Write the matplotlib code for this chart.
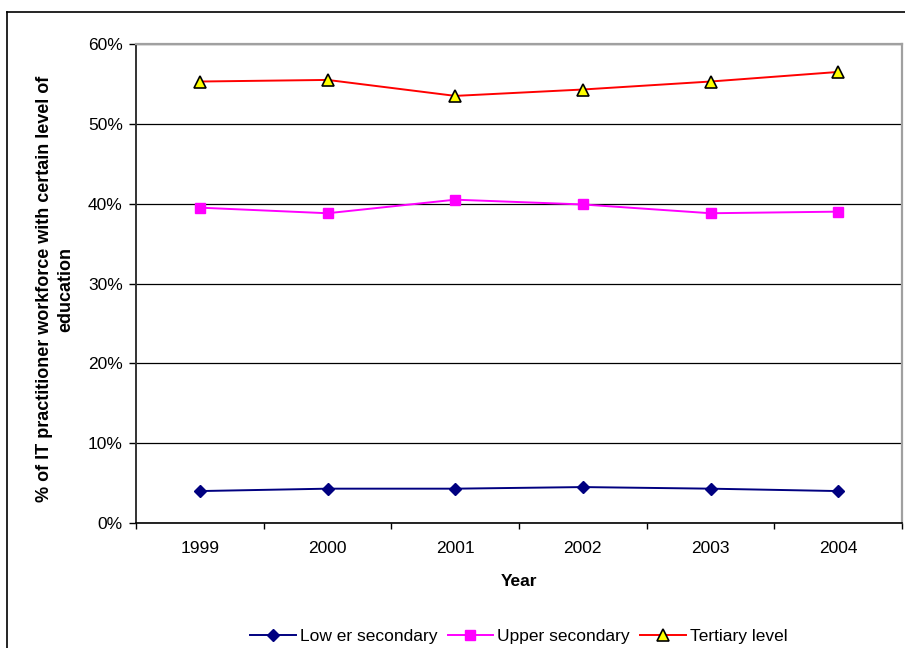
import matplotlib.pyplot as plt
from matplotlib.lines import Line2D
from matplotlib.ticker import FuncFormatter

plt.rcParams['font.family'] = ['Liberation Sans', 'DejaVu Sans']

# Share of IT practitioner workforce by education level
years = ['1999', '2000', '2001', '2002', '2003', '2004']
lower_secondary = [0.040, 0.043, 0.043, 0.045, 0.043, 0.040]
upper_secondary = [0.395, 0.388, 0.405, 0.399, 0.388, 0.390]
tertiary_level = [0.553, 0.555, 0.535, 0.543, 0.553, 0.565]

W, H = 905, 648
fig = plt.figure(figsize=(W / 100, H / 100), dpi=100)

# outer chart frame (runs off the page on the right and bottom)
fig.add_artist(Line2D([7 / W, 1.0], [1 - 12 / H, 1 - 12 / H], color='black', lw=1.2))
fig.add_artist(Line2D([7 / W, 7 / W], [0.0, 1 - 12 / H], color='black', lw=1.2))

ax = fig.add_axes([136 / W, 1 - 523 / H, (902 - 136) / W, (523 - 44) / H])

x = range(len(years))
ax.plot(x, lower_secondary, color='#000080', lw=1.4, marker='D', markersize=6.3,
        markerfacecolor='#000080', markeredgecolor='#000080', label='Low er secondary', zorder=3)
ax.plot(x, upper_secondary, color='#FF00FF', lw=1.4, marker='s', markersize=6.8,
        markerfacecolor='#FF00FF', markeredgecolor='#FF00FF', label='Upper secondary', zorder=3)
ax.plot(x, tertiary_level, color='#FF0000', lw=1.4, marker='^', markersize=8,
        markerfacecolor='#FFFF00', markeredgecolor='black', markeredgewidth=1.2,
        label='Tertiary level', zorder=3)

ax.set_xlim(-0.5, len(years) - 0.5)
ax.set_ylim(0, 0.6)
ax.set_yticks([0, 0.1, 0.2, 0.3, 0.4, 0.5, 0.6])
ax.yaxis.set_major_formatter(FuncFormatter(lambda v, p: f'{v * 100:.0f}%'))

# year labels centred in each category, tick marks on the boundaries
ax.set_xticks(list(x))
ax.set_xticklabels(years)
ax.set_xticks([i - 0.5 for i in range(len(years) + 1)], minor=True)
ax.tick_params(axis='x', which='major', length=0, pad=13, labelsize=12.5)
ax.tick_params(axis='x', which='minor', length=4, width=1, color='black', direction='out')
ax.tick_params(axis='y', length=5, width=1, color='black', pad=4.5, labelsize=12.5)

ax.grid(axis='y', color='black', lw=0.9, zorder=0)
ax.set_axisbelow(True)

for side in ['top', 'right']:
    ax.spines[side].set_color('#a0a0a0')
    ax.spines[side].set_linewidth(1.6)
ax.spines['left'].set_color('#333333')
ax.spines['left'].set_linewidth(1.4)
ax.spines['bottom'].set_color('black')
ax.spines['bottom'].set_linewidth(1.2)

fig.text(519 / W, 1 - 582 / H, 'Year', ha='center', va='center',
         fontsize=12.5, fontweight='bold')
fig.text(55 / W, 1 - 289 / H, '% of IT practitioner workforce with certain level of\neducation',
         ha='center', va='center', rotation=90, fontsize=13, fontweight='bold',
         multialignment='center', linespacing=1.3)

fig.legend(loc='center', bbox_to_anchor=(519 / W, 1 - 636 / H), ncol=3, frameon=False,
           fontsize=12.5, handlelength=2.6, handletextpad=0.25, columnspacing=0.6)

fig.savefig('out.png', dpi=100)
